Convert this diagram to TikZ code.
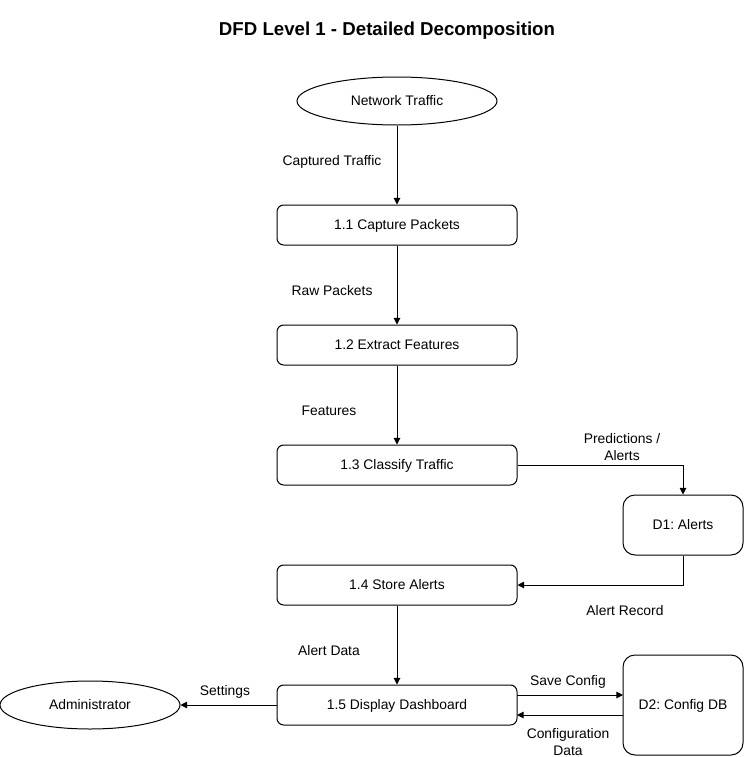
\documentclass[tikz,border=0pt]{standalone}
\usepackage{fontspec}
\setmainfont{Liberation Sans}
\frenchspacing
\usetikzlibrary{shapes.geometric,arrows.meta}
\begin{document}
\begin{tikzpicture}[x=0.75pt,y=-0.75pt,
  txt/.style={font=\fontsize{10.4}{12.4}\selectfont},
  one/.style={text height=9pt,text depth=2pt},
  proc/.style={draw,txt,one,rounded corners=5pt,minimum width=180pt,minimum height=30pt,inner sep=0pt,line width=0.75pt},
  store/.style={draw,txt,one,rounded corners=9pt,minimum width=90pt,inner sep=0pt,line width=0.75pt},
  ent/.style={draw,txt,one,ellipse,minimum width=150pt,minimum height=36pt,inner sep=0pt,line width=0.75pt},
  lbl/.style={txt,align=center,inner sep=0pt},
  flow/.style={-{Triangle[length=5pt,width=5pt]},line width=0.75pt}]
\useasboundingbox (0,0) rectangle (745,757);
\node[font=\bfseries\fontsize{14}{16}\selectfont] (title) at (387,31) {DFD Level 1 - Detailed Decomposition};
\node[ent] (net) at (397,101) {Network Traffic};
\node[proc] (p1) at (397,225) {1.1 Capture Packets};
\node[proc] (p2) at (397,345) {1.2 Extract Features};
\node[proc] (p3) at (397,465) {1.3 Classify Traffic};
\node[proc] (p4) at (397,585) {1.4 Store Alerts};
\node[proc] (p5) at (397,705) {1.5 Display Dashboard};
\node[store,minimum height=45pt] (d1) at (683,525) {D1: Alerts};
\node[store,minimum height=75pt] (d2) at (683,705) {D2: Config DB};
\node[ent,minimum width=135pt] (adm) at (90,705) {Administrator};

\draw[flow] (net) -- (p1);
\draw[flow] (p1) -- (p2);
\draw[flow] (p2) -- (p3);
\draw[flow] (p3.east) -| (d1.north);
\draw[flow] (d1.south) |- (p4.east);
\draw[flow] (p4) -- (p5);
\draw[flow] (p5.west) -- (adm.east);
\coordinate (s1) at (517,695);
\coordinate (s2) at (623,695);
\coordinate (c1) at (623,715);
\coordinate (c2) at (517,715);
\draw[flow] (s1) -- (s2);
\draw[flow] (c1) -- (c2);

\node[lbl,one] (l1) at (332,161) {Captured Traffic};
\node[lbl,one] (l2) at (332,291) {Raw Packets};
\node[lbl,one] (l3) at (329,411) {Features};
\node[lbl] (l4) at (622,447) {Predictions /\\Alerts};
\node[lbl,one] (l5) at (625,611) {Alert Record};
\node[lbl,one] (l6) at (329,651) {Alert Data};
\node[lbl,one] (l7) at (225,691) {Settings};
\node[lbl,one] (l8) at (568,681) {Save Config};
\node[lbl] (l9) at (568,742) {Configuration\\Data};
\end{tikzpicture}
\end{document}
